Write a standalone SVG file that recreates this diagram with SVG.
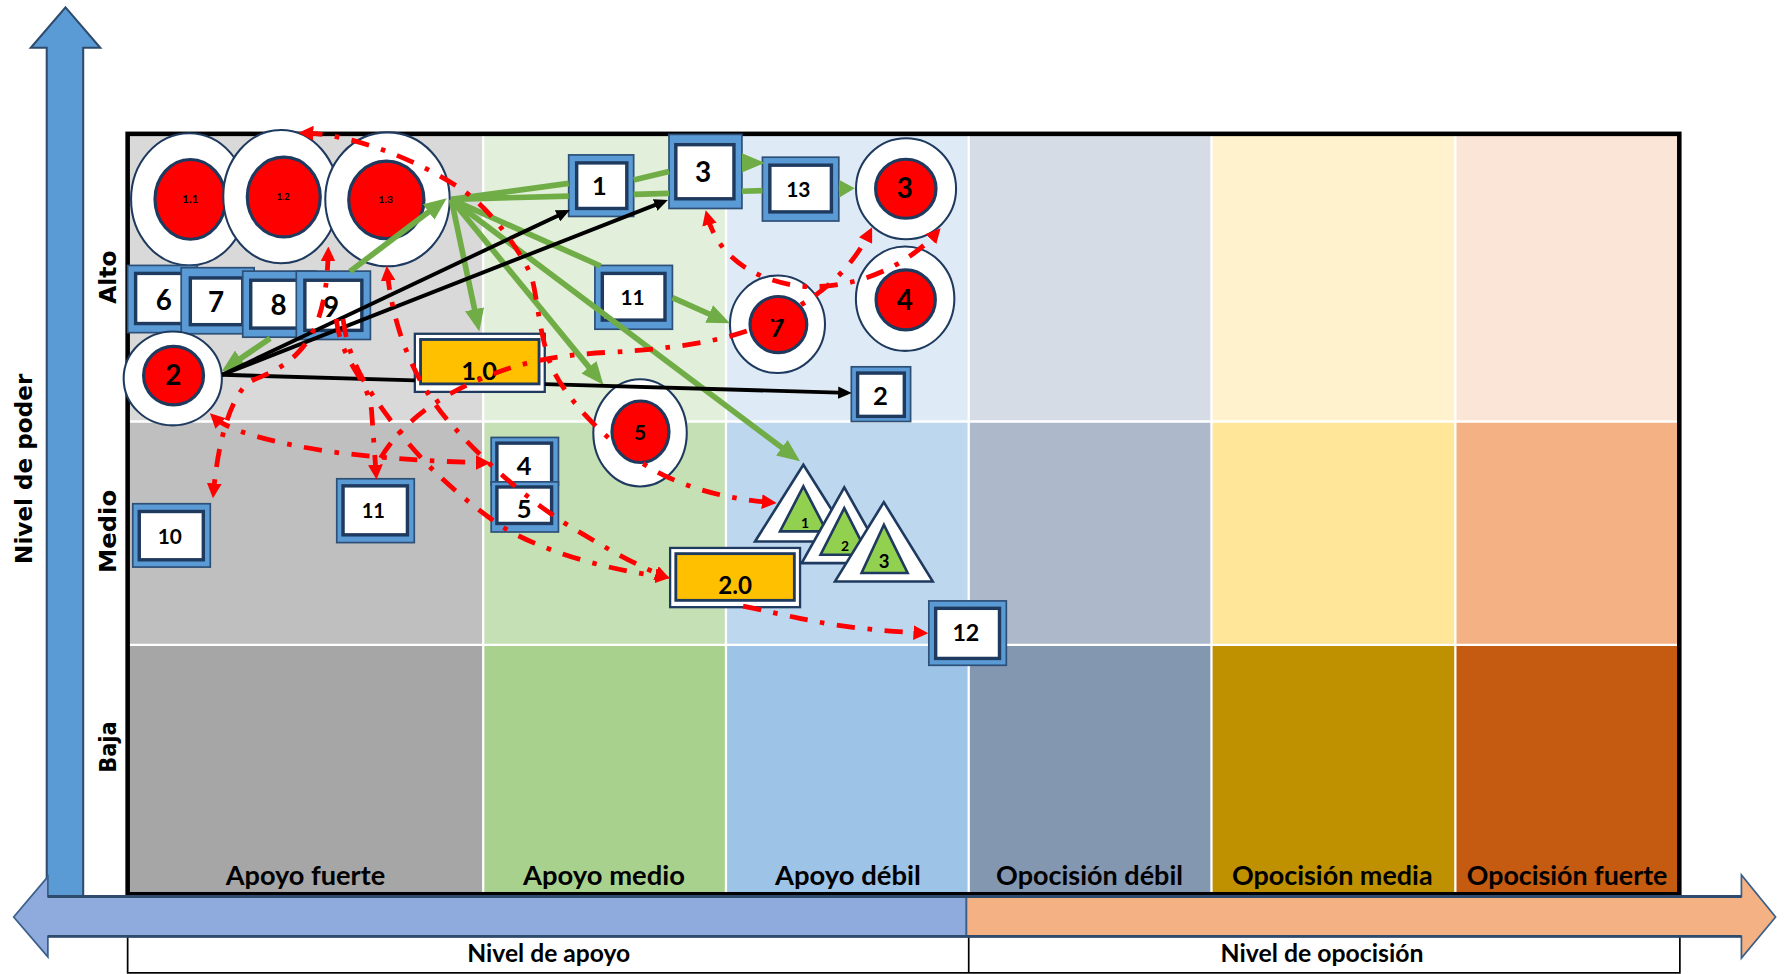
<svg xmlns="http://www.w3.org/2000/svg" width="1787" height="974" viewBox="0 0 1787 974">
<defs>
<style>
.bo{fill:#5B9BD5;stroke:#2E5077;stroke-width:1.5}
.bi{fill:#fff;stroke:#1F3A5F;stroke-width:3}
.co{fill:#fff;stroke:#1F3A5F;stroke-width:1.8}
.ci{fill:#FF0000;stroke:#1F3A5F;stroke-width:2.8}
.oo{fill:#fff;stroke:#1F3A5F;stroke-width:2}
.oi{fill:#FFC000;stroke:#1F3A5F;stroke-width:2.5}
.to{fill:#fff;stroke:#1F3A5F;stroke-width:2.3;stroke-linejoin:miter}
.ti{fill:#92D050;stroke:#1F3A5F;stroke-width:2.3}
.num{font-family:Lato,'Liberation Sans',sans-serif;font-weight:700;text-anchor:middle;fill:#000}
.lab{font-family:Lato,'Liberation Sans',sans-serif;font-weight:700;text-anchor:middle;fill:#000}
.vl{font-family:'DejaVu Sans',Verdana,sans-serif;font-weight:700;text-anchor:middle;fill:#000}
.g{stroke:#70AD47;stroke-width:5;fill:none}
.k{stroke:#000;stroke-width:3.4;fill:none}
.r{stroke:#FF0000;stroke-width:4.2;fill:none;stroke-dasharray:16 11 4 11}
.wl{stroke:#fff;stroke-width:2}
</style>
<marker id="ag" markerUnits="userSpaceOnUse" viewBox="0 0 20 17" markerWidth="20" markerHeight="17" refX="13" refY="8.5" orient="auto"><path d="M0,0 L20,8.5 L0,17 z" fill="#70AD47"/></marker>
<marker id="ags" markerUnits="userSpaceOnUse" viewBox="0 0 14 16" markerWidth="14" markerHeight="16" refX="7" refY="8" orient="auto"><path d="M0,0 L14,8 L0,16 z" fill="#70AD47"/></marker>
<marker id="ak" markerUnits="userSpaceOnUse" viewBox="0 0 12 11" markerWidth="12" markerHeight="11" refX="8" refY="5.5" orient="auto"><path d="M0,0 L12,5.5 L0,11 z" fill="#000"/></marker>
<marker id="ar" markerUnits="userSpaceOnUse" viewBox="0 0 13 13" markerWidth="13" markerHeight="13" refX="8" refY="6.5" orient="auto-start-reverse"><path d="M0,0 L13,6.5 L0,13 z" fill="#FF0000"/></marker>
</defs>
<rect width="1787" height="974" fill="#fff"/>
<g transform="scale(1.13967,1.13918)">
<g id="grid">
<rect x="112" y="117.5" width="312" height="252.5" fill="#D9D9D9"/>
<rect x="112" y="370" width="312" height="196" fill="#BFBFBF"/>
<rect x="112" y="566" width="312" height="219" fill="#A6A6A6"/>
<rect x="424" y="117.5" width="213" height="252.5" fill="#E2EFDA"/>
<rect x="424" y="370" width="213" height="196" fill="#C5E0B4"/>
<rect x="424" y="566" width="213" height="219" fill="#A9D18E"/>
<rect x="637" y="117.5" width="213" height="252.5" fill="#DEEBF7"/>
<rect x="637" y="370" width="213" height="196" fill="#BDD7EE"/>
<rect x="637" y="566" width="213" height="219" fill="#9DC3E6"/>
<rect x="850" y="117.5" width="213" height="252.5" fill="#D6DCE5"/>
<rect x="850" y="370" width="213" height="196" fill="#ADB9CA"/>
<rect x="850" y="566" width="213" height="219" fill="#8497B0"/>
<rect x="1063" y="117.5" width="214" height="252.5" fill="#FFF2CC"/>
<rect x="1063" y="370" width="214" height="196" fill="#FFE699"/>
<rect x="1063" y="566" width="214" height="219" fill="#BF9000"/>
<rect x="1277" y="117.5" width="196.5" height="252.5" fill="#FBE5D6"/>
<rect x="1277" y="370" width="196.5" height="196" fill="#F4B183"/>
<rect x="1277" y="566" width="196.5" height="219" fill="#C55A11"/>
<line class="wl" x1="424" y1="117.5" x2="424" y2="785"/>
<line class="wl" x1="637" y1="117.5" x2="637" y2="785"/>
<line class="wl" x1="850" y1="117.5" x2="850" y2="785"/>
<line class="wl" x1="1063" y1="117.5" x2="1063" y2="785"/>
<line class="wl" x1="1277" y1="117.5" x2="1277" y2="785"/>
<line class="wl" x1="112" y1="370" x2="1473.5" y2="370"/>
<line class="wl" x1="112" y1="566" x2="1473.5" y2="566"/>
<rect x="112" y="117.5" width="1361.5" height="667.5" fill="none" stroke="#000" stroke-width="4"/>
<text class="lab" x="268" y="776.5" font-size="24" textLength="140" lengthAdjust="spacingAndGlyphs">Apoyo fuerte</text>
<text class="lab" x="530" y="776.5" font-size="24" textLength="142" lengthAdjust="spacingAndGlyphs">Apoyo medio</text>
<text class="lab" x="744" y="776.5" font-size="24" textLength="128" lengthAdjust="spacingAndGlyphs">Apoyo débil</text>
<text class="lab" x="956" y="776.5" font-size="24" textLength="164" lengthAdjust="spacingAndGlyphs">Opocisión débil</text>
<text class="lab" x="1169" y="776.5" font-size="24" textLength="176" lengthAdjust="spacingAndGlyphs">Opocisión media</text>
<text class="lab" x="1375" y="776.5" font-size="24" textLength="176" lengthAdjust="spacingAndGlyphs">Opocisión fuerte</text>
</g>
<g id="axes">
<polygon points="57.5,6.5 88,42 73,42 73,787 41,787 41,42 27,42" fill="#5B9BD5" stroke="#2E4B6E" stroke-width="1.8"/>
<text class="vl" transform="translate(28.5,411.5) rotate(-90)" font-size="20.3" textLength="167" lengthAdjust="spacingAndGlyphs">Nivel de poder</text>
<text class="vl" transform="translate(101.4,243.3) rotate(-90)" font-size="20.5" textLength="46.8" lengthAdjust="spacingAndGlyphs">Alto</text>
<text class="vl" transform="translate(101.4,466.5) rotate(-90)" font-size="20.5" textLength="73" lengthAdjust="spacingAndGlyphs">Medio</text>
<text class="vl" transform="translate(101.4,655.8) rotate(-90)" font-size="20.5" textLength="45.3" lengthAdjust="spacingAndGlyphs">Baja</text>
<rect x="112" y="822" width="1362" height="32" fill="#fff" stroke="#000" stroke-width="1.5"/>
<line x1="850" y1="822" x2="850" y2="854" stroke="#000" stroke-width="1.5"/>
<polygon points="12,805 42,769.5 42,787 848,787 848,822 42,822 42,840" fill="#8FAADC" stroke="#3A5F8A" stroke-width="1.5" stroke-linejoin="miter"/>
<polygon points="848,787 1528,787 1528,768 1558,805 1528,841 1528,822 848,822" fill="#F4B183" stroke="#3A5F8A" stroke-width="1.5"/>
<line x1="42" y1="787" x2="1528" y2="787" stroke="#2E4B6E" stroke-width="2.5"/>
<line x1="42" y1="822" x2="1528" y2="822" stroke="#2E4B6E" stroke-width="2.5"/>
<text class="lab" x="481.5" y="844.5" font-size="21.5" textLength="143" lengthAdjust="spacingAndGlyphs">Nivel de apoyo</text>
<text class="lab" x="1160" y="844.5" font-size="21.5" textLength="178" lengthAdjust="spacingAndGlyphs">Nivel de opocisión</text>
</g>
<g id="c1_1"><ellipse class="co" cx="166" cy="175" rx="51" ry="58"/><ellipse class="ci" cx="167" cy="175" rx="31" ry="35"/><text class="num" x="167" y="178.4" font-size="10">1.1</text></g>
<g id="c1_2"><ellipse class="co" cx="246.5" cy="172.6" rx="50.6" ry="58.5"/><ellipse class="ci" cx="249" cy="173" rx="32" ry="35"/><text class="num" x="248.5" y="175.5" font-size="8.2">1.2</text></g>
<g id="c1_3"><ellipse class="co" cx="340" cy="175" rx="54.6" ry="58.8"/><ellipse class="ci" cx="339" cy="175.5" rx="33" ry="34"/><text class="num" x="338.5" y="178.4" font-size="9">1.3</text></g>
<g id="n6"><rect class="bo" x="112" y="233" width="61" height="59"/><rect class="bi" x="119" y="240" width="47" height="44"/><text class="num" x="143.7" y="272" font-size="24.4">6</text></g>
<g id="n7"><rect class="bo" x="159" y="235" width="64" height="58"/><rect class="bi" x="167" y="244" width="46" height="41"/><text class="num" x="189.7" y="273.5" font-size="24.4">7</text></g>
<g id="n8"><rect class="bo" x="213" y="238" width="64" height="58"/><rect class="bi" x="220" y="246" width="48" height="42"/><text class="num" x="244.5" y="276.4" font-size="24.4">8</text></g>
<g id="n9"><rect class="bo" x="260" y="238" width="65" height="60"/><rect class="bi" x="267.5" y="246" width="50" height="44"/><text class="num" x="290.5" y="278" font-size="24.4">9</text></g>
<g id="c2"><ellipse class="co" cx="151.6" cy="332.2" rx="43.1" ry="41.2"/><ellipse class="ci" cx="152.3" cy="329.7" rx="26.3" ry="25.7"/><text class="num" x="152" y="337.8" font-size="24.4">2</text></g>
<g id="n1_0"><rect class="oo" x="364" y="293" width="114" height="51"/><rect class="oi" x="369" y="298" width="104" height="39"/><text class="num" x="420.4" y="333.4" font-size="22.4">1.0</text></g>
<g id="n1"><rect class="bo" x="499" y="136" width="57" height="54"/><rect class="bi" x="506" y="143" width="44" height="40"/><text class="num" x="526" y="171" font-size="22.3">1</text></g>
<g id="n3"><rect class="bo" x="587" y="118" width="64" height="65"/><rect class="bi" x="593" y="127" width="51" height="47.5"/><text class="num" x="617" y="159.4" font-size="24.5">3</text></g>
<g id="n13"><rect class="bo" x="669" y="138" width="67" height="56"/><rect class="bi" x="675.5" y="145" width="54" height="41"/><text class="num" x="700.5" y="172.6" font-size="18.4">13</text></g>
<g id="c3"><ellipse class="co" cx="795" cy="165.7" rx="43.9" ry="44.3"/><ellipse class="ci" cx="794.8" cy="165.7" rx="26.5" ry="25.9"/><text class="num" x="794" y="174" font-size="24.4">3</text></g>
<g id="c4"><ellipse class="co" cx="794.2" cy="262.2" rx="43.2" ry="45.8"/><ellipse class="ci" cx="794.7" cy="263.2" rx="26" ry="26.3"/><text class="num" x="794" y="272" font-size="24.4">4</text></g>
<g id="n11a"><rect class="bo" x="522" y="233" width="68" height="56"/><rect class="bi" x="528.5" y="240" width="55" height="41"/><text class="num" x="555" y="267.6" font-size="18.3">11</text></g>
<g id="c7"><ellipse class="co" cx="682.2" cy="284.7" rx="41.7" ry="42.8"/><ellipse class="ci" cx="683" cy="284.9" rx="24.9" ry="24.6"/><text class="num" x="682" y="295.4" font-size="22.5">7</text></g>
<g id="n2"><rect class="bo" x="747" y="322" width="52" height="48"/><rect class="bi" x="752.5" y="327.5" width="41" height="38"/><text class="num" x="772.6" y="355.4" font-size="22.5">2</text></g>
<g id="c5"><ellipse class="co" cx="561.6" cy="380" rx="41" ry="47"/><ellipse class="ci" cx="562" cy="379" rx="25" ry="27"/><text class="num" x="561.6" y="386" font-size="18.4">5</text></g>
<g id="n4"><rect class="bo" x="431" y="384" width="59" height="42"/><rect class="bi" x="436" y="389" width="48" height="35"/><text class="num" x="460" y="416.8" font-size="22.4">4</text></g>
<g id="n5"><rect class="bo" x="431" y="423" width="59" height="44"/><rect class="bi" x="436" y="427.5" width="48" height="32"/><text class="num" x="460" y="454.8" font-size="22.4">5</text></g>
<g id="n11b"><rect class="bo" x="295.5" y="420.3" width="68" height="56"/><rect class="bi" x="301" y="426.5" width="56.5" height="43"/><text class="num" x="327.6" y="454.8" font-size="17.6">11</text></g>
<g id="n10"><rect class="bo" x="116.5" y="442.2" width="68" height="55.6"/><rect class="bi" x="122.2" y="449" width="56.2" height="42.4"/><text class="num" x="149" y="477.3" font-size="18.3">10</text></g>
<g id="n2_0"><rect class="oo" x="588" y="481" width="114" height="52"/><rect class="oi" x="593" y="486" width="104" height="41"/><text class="num" x="645" y="521.2" font-size="21.2">2.0</text></g>
<g id="t1"><polygon class="to" points="704.9,408 747.3,475.3 662.5,475.3"/><polygon class="ti" points="704.9,427 725.4,466.5 684.4,466.5"/><text class="num" x="706.3" y="463.6" font-size="12.3">1</text></g>
<g id="t2"><polygon class="to" points="740.8,427.9 778.2,494.3 703.4,494.3"/><polygon class="ti" points="740.8,446 761.6,487 720,487"/><text class="num" x="741.4" y="484" font-size="12.2">2</text></g>
<g id="t3"><polygon class="to" points="775.5,440.8 818.4,510.4 732.7,510.4"/><polygon class="ti" points="775.6,460.7 796.4,503 756,503"/><text class="num" x="775.8" y="498.7" font-size="16.3">3</text></g>
<g id="n12"><rect class="bo" x="815" y="527.5" width="68" height="56.5"/><rect class="bi" x="821" y="534" width="56" height="44"/><text class="num" x="847.5" y="563" font-size="20.4">12</text></g>
<g id="connectors">
<path class="g" d="M307,238.4 L386.4,178.2" marker-end="url(#ag)"/>
<path class="g" d="M396,175 L419.1,284.2" marker-end="url(#ag)"/>
<path class="g" d="M396,175 L525,332.4" marker-end="url(#ag)"/>
<path class="g" d="M396,175 L696.4,400.8" marker-end="url(#ag)"/>
<path class="g" d="M396,175 L527,233.5"/>
<path class="g" d="M590,261.3 L634.1,280.9" marker-end="url(#ag)"/>
<path class="g" d="M396,175 L499,161"/>
<path class="g" d="M556,158 L587,150.5"/>
<path class="g" d="M651,143 L664,143" marker-end="url(#ag)"/>
<path class="g" d="M396,175 L499,172.1"/>
<path class="g" d="M556,170.6 L587,169.7"/>
<path class="g" d="M651,167.9 L669,167.4"/>
<path class="g" d="M736,165.6 L743,165.4" marker-end="url(#ags)"/>
<path class="g" d="M237,297 L200.3,322.1" marker-end="url(#ag)"/>
<path class="k" d="M195,329 L496.4,186" marker-end="url(#ak)"/>
<path class="k" d="M195,329 L582.3,177" marker-end="url(#ak)"/>
<path class="k" d="M195,329 L364,333.9"/>
<path class="k" d="M478,337.2 L743.4,344.9" marker-end="url(#ak)"/>
<path class="r" d="M267,116.7 C310,118 365,140 403.6,165.2 C425,179 452,212 465,239.5 C471,252 472,292 484,321.7 C492,342 525,385 573.3,412.4 C605,430 640,438 676.5,441.1" marker-start="url(#ar)" marker-end="url(#ar)"/>
<path class="r" d="M187.8,366.2 C200,378 240,389 290,396.5 C340,403 390,405.5 425.5,406.2" marker-start="url(#ar)" marker-end="url(#ar)"/>
<path class="r" d="M288,221.4 C287,262 280,290 262,309 C250,322 236,328 221,334 C205,343 192,380 187.3,432.3" marker-start="url(#ar)" marker-end="url(#ar)"/>
<path class="r" d="M295,280 C300,320 322,330 326,360 L330,416" marker-end="url(#ar)"/>
<path class="r" d="M301,280 C306,320 325,345 345,372 C365,400 395,430 437,460 C470,482 530,500 583,506.5" marker-end="url(#ar)"/>
<path class="r" d="M339.8,238.5 C345,290 365,340 400,377 C430,410 470,445 510,468 C535,483 560,497 583,506" marker-start="url(#ar)" marker-end="url(#ar)"/>
<path class="r" d="M334,402 C350,375 380,350 421,333 C455,318 490,311 540,309 C590,306 630,300 660,289 C700,272 740,250 763,204" marker-end="url(#ar)"/>
<path class="r" d="M620.5,189.5 C630,225 660,245 700,251 C740,255 790,240 822,204" marker-start="url(#ar)" marker-end="url(#ar)"/>
<path class="r" d="M652,532 C690,540 720,548 760,552 C780,554 795,555 809.5,555.6" marker-end="url(#ar)"/>
</g>
</g>
</svg>
